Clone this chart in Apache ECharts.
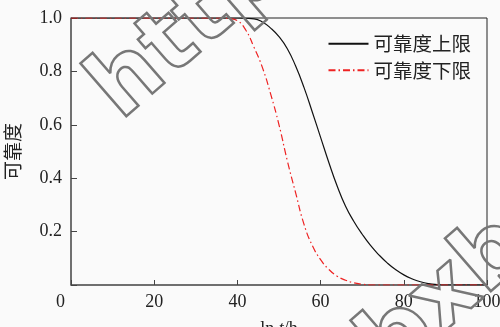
<!DOCTYPE html>
<html>
<head>
<meta charset="utf-8">
<script src="https://cdn.jsdelivr.net/npm/echarts@6/dist/echarts.min.js"></script>
<style>
  html, body { margin: 0; padding: 0; background: #fafafa; }
  #chart { width: 500px; height: 327px; }
</style>
</head>
<body>
<div id="chart"></div>
<script>
// ln t/h
const xs = [0, 10, 20, 30, 36, 38, 40, 42, 44, 46, 48, 50, 52, 54, 56, 58, 60, 62, 64, 66, 68, 70, 72, 74, 76, 78, 80, 82, 84, 86, 88, 90, 100];
// 可靠度上限
const upper = [1, 1, 1, 1, 1, 1, 1, 0.999, 0.997, 0.985, 0.962, 0.93, 0.885, 0.82, 0.74, 0.648, 0.553, 0.458, 0.37, 0.295, 0.238, 0.19, 0.148, 0.113, 0.083, 0.058, 0.038, 0.023, 0.012, 0.005, 0.0015, 0, 0];
// 可靠度下限
const lower = [1, 1, 1, 1, 1, 0.998, 0.99, 0.955, 0.89, 0.815, 0.715, 0.6, 0.465, 0.345, 0.228, 0.148, 0.095, 0.058, 0.033, 0.018, 0.008, 0.003, 0, 0, 0, 0, 0, 0, 0, 0, 0, 0, 0];
const seriesNames = ['可靠度上限', '可靠度下限'];
const yTicks = [0, 0.2, 0.4, 0.6, 0.8, 1.0];

const serif = '"Liberation Serif", "Times New Roman", serif';
const cjk = '"Noto Sans CJK SC", sans-serif';

const pairs = (ys) => xs.map((x, i) => [x, ys[i]]);

const chart = echarts.init(document.getElementById('chart'));
const deg = Math.PI / 180;

// 水印
const watermark = (text, x, y) => ({
    type: 'text',
    x: x,
    y: y,
    rotation: 41 * deg,
    z: 100,
    style: {
        text: text,
        font: 'bold 92px "DejaVu Sans"',
        fill: 'none',
        stroke: '#777',
        lineWidth: 2.5,
        lineJoin: 'round',
        verticalAlign: 'bottom',
    },
});

chart.setOption({
    backgroundColor: '#fafafa',
    animation: false,
    grid: {
        left: 71,
        right: 13,
        top: 18,
        bottom: 42,
        outerBoundsMode: 'none',
        containLabel: false,
        show: true,
        borderColor: '#222',
        borderWidth: 1,
    },
    legend: {
        orient: 'vertical',
        right: 24,
        top: 29,
        itemWidth: 40,
        itemHeight: 14,
        itemGap: 7,
        itemStyle: { opacity: 0 },
        textStyle: { fontFamily: cjk, fontSize: 19.5, color: '#222' },
        data: seriesNames,
    },
    xAxis: {
        type: 'value',
        min: 0,
        max: 100,
        interval: 20,
        name: '{a|ln }{b|t}{a|/h}',
        nameLocation: 'middle',
        nameGap: 35,
        nameTextStyle: {
            rich: {
                a: { fontFamily: serif, fontSize: 18, color: '#222' },
                b: { fontFamily: serif, fontSize: 18, color: '#222', fontStyle: 'italic' },
            },
        },
        axisLine: { lineStyle: { color: '#666', width: 1.5 } },
        axisTick: { inside: true, length: 5, lineStyle: { color: '#444' } },
        splitLine: { show: false },
        axisLabel: {
            margin: 8,
            fontFamily: serif,
            fontSize: 18,
            color: '#222',
            formatter: (v) => (v === 0 ? '{z|0}' : String(v)),
            rich: { z: { fontFamily: serif, fontSize: 18, color: '#222', padding: [0, 21, 0, 0] } },
        },
    },
    yAxis: {
        type: 'value',
        min: 0,
        max: 1,
        interval: 0.2,
        name: '可靠度',
        nameLocation: 'middle',
        nameGap: 49,
        nameTextStyle: { fontFamily: cjk, fontSize: 19, color: '#222' },
        axisLine: { show: true, lineStyle: { color: '#666', width: 1.5 } },
        axisTick: { show: true, inside: true, length: 6, lineStyle: { color: '#444' } },
        splitLine: { show: false },
        axisLabel: {
            margin: 9,
            fontFamily: serif,
            fontSize: 18,
            color: '#222',
            formatter: (v) => (yTicks.indexOf(v) > 0 ? v.toFixed(1) : ''),
        },
    },
    series: [
        {
            name: seriesNames[0],
            type: 'line',
            data: pairs(upper),
            smooth: 0.5,
            symbol: 'none',
            lineStyle: { color: '#111', width: 1.2, type: 'solid' },
            itemStyle: { color: '#111' },
        },
        {
            name: seriesNames[1],
            type: 'line',
            data: pairs(lower),
            smooth: 0.5,
            symbol: 'none',
            lineStyle: { color: '#ee2222', width: 1.2, type: [7, 3, 1.5, 3] },
            itemStyle: { color: '#ee2222' },
        },
    ],
    graphic: [
        watermark('http', 135, 138),
        watermark('bxb', 405, 395),
    ],
});
</script>
</body>
</html>
